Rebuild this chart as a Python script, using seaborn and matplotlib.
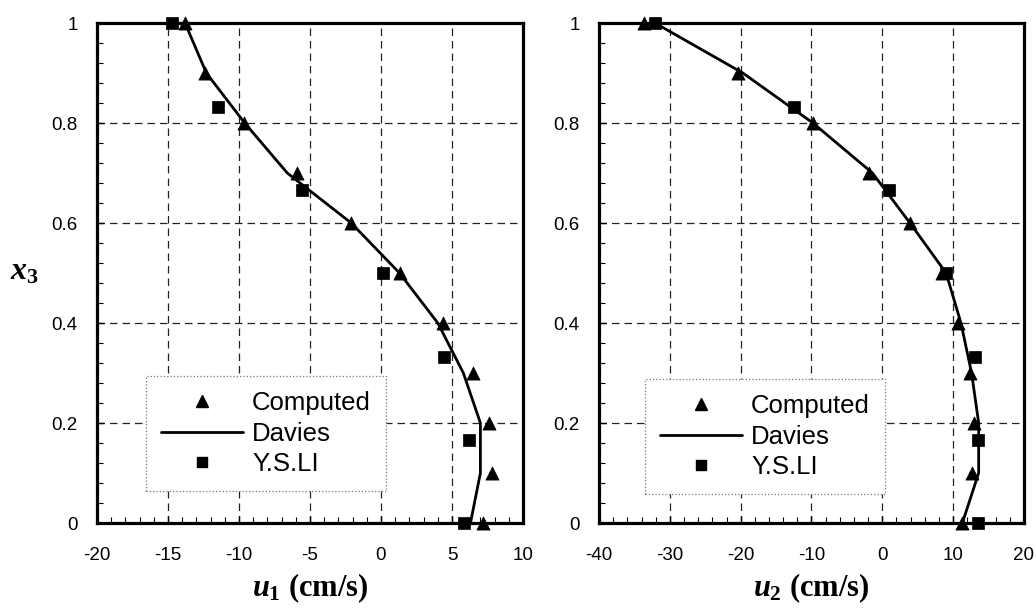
import matplotlib
matplotlib.use('Agg')
import matplotlib.pyplot as plt
import seaborn as sns
from matplotlib.ticker import MultipleLocator
from matplotlib.lines import Line2D

# ---------------- data ----------------
x3_computed = [1.0, 0.9, 0.8, 0.7, 0.6, 0.5, 0.4, 0.3, 0.2, 0.1, 0.0]
u1_computed = [-13.8, -12.4, -9.65, -5.95, -2.1, 1.35, 4.4, 6.45, 7.6, 7.85, 7.15]
u2_computed = [-33.7, -20.4, -9.8, -1.9, 3.9, 8.4, 10.7, 12.35, 12.95, 12.6, 11.3]

x3_davies = [1.0, 0.9, 0.8, 0.7, 0.6, 0.5, 0.4, 0.3, 0.2, 0.1, 0.0]
u1_davies = [-13.8, -12.3, -9.6, -6.6, -2.1, 1.3, 4.0, 5.8, 7.0, 7.0, 6.3]
u2_davies = [-32.1, -19.7, -9.8, -1.4, 3.9, 9.0, 11.1, 12.6, 13.6, 13.6, 11.3]

x3_ysli = [1.0, 0.833, 0.667, 0.5, 0.333, 0.167, 0.0]
u1_ysli = [-14.7, -11.45, -5.55, 0.15, 4.45, 6.2, 5.85]
u2_ysli = [-32.1, -12.4, 1.0, 9.0, 13.1, 13.5, 13.5]

legend_labels = ['Computed', 'Davies', 'Y.S.LI']
y_ticks = [0, 0.2, 0.4, 0.6, 0.8, 1.0]
y_ticklabels = ['0', '0.2', '0.4', '0.6', '0.8', '1']
x1_ticks = [-20, -15, -10, -5, 0, 5, 10]
x2_ticks = [-40, -30, -20, -10, 0, 10, 20]

# ---------------- style ----------------
sns.set_theme(style='white')
plt.rcParams['font.family'] = ['Liberation Sans', 'DejaVu Sans']
plt.rcParams['axes.unicode_minus'] = False
plt.rcParams['text.color'] = 'black'
plt.rcParams['axes.labelcolor'] = 'black'
plt.rcParams['xtick.color'] = 'black'
plt.rcParams['ytick.color'] = 'black'
plt.rcParams['mathtext.fontset'] = 'custom'
plt.rcParams['mathtext.it'] = 'Liberation Serif:italic:bold'
plt.rcParams['mathtext.rm'] = 'Liberation Serif:bold'
plt.rcParams['mathtext.bf'] = 'Liberation Serif:bold'

W, H = 1036, 611
fig = plt.figure(figsize=(W / 100, H / 100), dpi=100)
ax1 = fig.add_axes([97 / W, 1 - 523 / H, 426 / W, 500 / H])
ax2 = fig.add_axes([599 / W, 1 - 523 / H, 425 / W, 500 / H])


def draw(ax, u_comp, u_dav, u_ys, xlim, xticks, xminor, xlabel, leg_anchor):
    sns.lineplot(x=u_dav, y=x3_davies, sort=False, estimator=None,
                 color='black', linewidth=2.0, ax=ax, zorder=3)
    sns.scatterplot(x=u_comp, y=x3_computed, marker='^', s=90, color='black',
                    edgecolor='black', linewidth=0.5, ax=ax, zorder=4, clip_on=False)
    sns.scatterplot(x=u_ys, y=x3_ysli, marker='s', s=75, color='black',
                    edgecolor='black', linewidth=0.5, ax=ax, zorder=4, clip_on=False)

    ax.set_xlim(*xlim)
    ax.set_ylim(0, 1)
    ax.set_xticks(xticks)
    ax.set_yticks(y_ticks)
    ax.set_yticklabels(y_ticklabels)
    ax.xaxis.set_minor_locator(MultipleLocator(xminor))
    ax.yaxis.set_minor_locator(MultipleLocator(0.04))
    ax.tick_params(which='both', direction='in', top=False, right=False,
                   left=True, bottom=True, colors='black')
    ax.tick_params(which='major', length=5, width=1, labelsize=13.5)
    ax.tick_params(axis='x', which='major', pad=17)
    ax.tick_params(axis='y', which='major', pad=14)
    ax.tick_params(which='minor', length=4, width=0.8)
    ax.set_axisbelow(True)
    ax.grid(True, which='major', color='#222222', linestyle=(0, (6, 4)), linewidth=0.9)
    for sp in ax.spines.values():
        sp.set_linewidth(2.3)
        sp.set_color('black')
        sp.set_zorder(2.5)

    ax.set_xlabel(xlabel, fontfamily='Liberation Serif', fontweight='bold', fontsize=22,
                  color='black')
    ax.xaxis.set_label_coords(0.5, -0.13)
    ax.xaxis.label.set_va('center')
    ax.set_ylabel('')

    handles = [Line2D([], [], marker='^', color='black', ls='none', ms=8),
               Line2D([], [], color='black', lw=2.0),
               Line2D([], [], marker='s', color='black', ls='none', ms=7.5)]
    leg = ax.legend(handles, legend_labels, loc='upper left', bbox_to_anchor=leg_anchor,
                    handlelength=3.2, handletextpad=0.35, labelspacing=0.26,
                    borderpad=0.58, borderaxespad=0, frameon=True, fancybox=False,
                    labelcolor='black',
                    prop={'family': 'Liberation Sans', 'size': 18.5})
    fr = leg.get_frame()
    fr.set_edgecolor('#777777')
    fr.set_linestyle(':')
    fr.set_linewidth(0.9)
    fr.set_alpha(1)


draw(ax1, u1_computed, u1_davies, u1_ysli, (-20, 10), x1_ticks, 1,
     r'$u_{\mathit{1}}$ (cm/s)', (0.115, 0.294))
draw(ax2, u2_computed, u2_davies, u2_ysli, (-40, 20), x2_ticks, 2,
     r'$u_{\mathit{2}}$ (cm/s)', (0.108, 0.288))

ax1.set_ylabel(r'$x_{\mathit{3}}$', fontfamily='Liberation Serif', fontsize=23,
               rotation=0, va='center', ha='center', color='black')
ax1.yaxis.set_label_coords(-0.171, 0.502)

fig.savefig('out.png', dpi=100)
